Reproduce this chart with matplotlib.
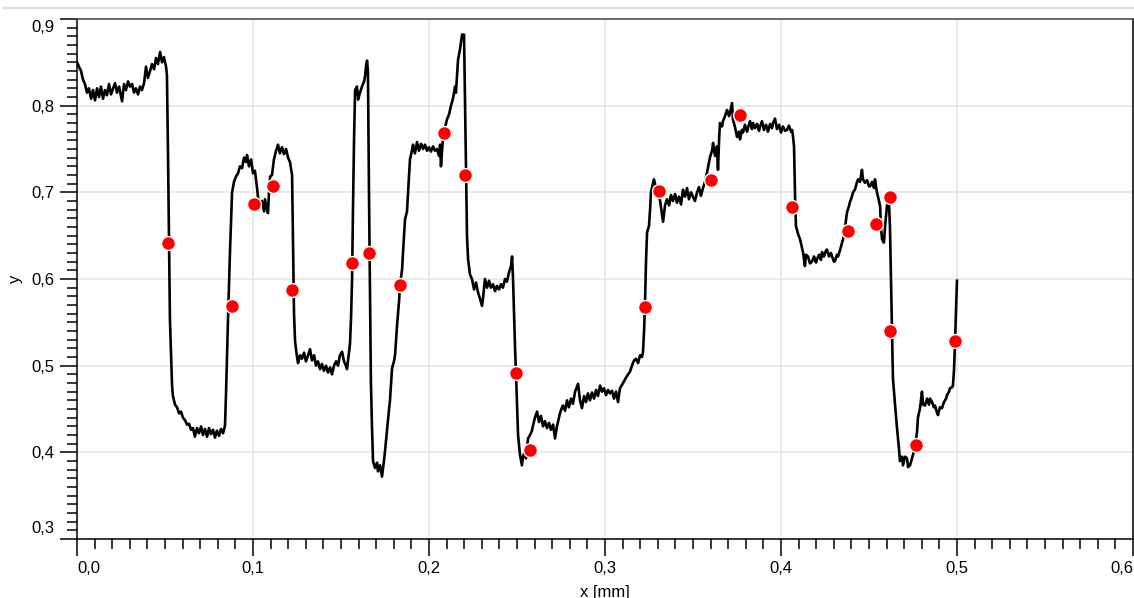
import matplotlib
matplotlib.use("Agg")
import matplotlib.pyplot as plt
from matplotlib.ticker import MultipleLocator, FuncFormatter
from matplotlib.lines import Line2D

plt.rcParams['font.family'] = ['Liberation Sans', 'DejaVu Sans']

# profile trace (x in mm)
x_mm = [
    0.0000, 0.0011, 0.0023, 0.0034, 0.0045, 0.0057, 0.0068, 0.0080, 0.0091, 0.0102,
    0.0114, 0.0125, 0.0136, 0.0148, 0.0159, 0.0170, 0.0182, 0.0193, 0.0205, 0.0216,
    0.0227, 0.0239, 0.0256, 0.0267, 0.0278, 0.0290, 0.0301, 0.0313, 0.0324, 0.0335,
    0.0347, 0.0358, 0.0369, 0.0381, 0.0392, 0.0403, 0.0415, 0.0426, 0.0438, 0.0449,
    0.0460, 0.0472, 0.0483, 0.0494, 0.0506, 0.0511, 0.0517, 0.0523, 0.0528, 0.0540,
    0.0545, 0.0557, 0.0568, 0.0580, 0.0591, 0.0602, 0.0614, 0.0625, 0.0636, 0.0648,
    0.0659, 0.0670, 0.0682, 0.0693, 0.0705, 0.0716, 0.0727, 0.0739, 0.0750, 0.0761,
    0.0773, 0.0784, 0.0795, 0.0807, 0.0818, 0.0830, 0.0841, 0.0847, 0.0852, 0.0858,
    0.0869, 0.0881, 0.0892, 0.0903, 0.0915, 0.0926, 0.0938, 0.0949, 0.0960, 0.0966,
    0.0977, 0.0989, 0.1000, 0.1011, 0.1023, 0.1028, 0.1040, 0.1051, 0.1063, 0.1068,
    0.1080, 0.1085, 0.1091, 0.1097, 0.1108, 0.1119, 0.1131, 0.1142, 0.1153, 0.1165,
    0.1176, 0.1188, 0.1199, 0.1210, 0.1222, 0.1227, 0.1233, 0.1239, 0.1250, 0.1256,
    0.1267, 0.1278, 0.1290, 0.1301, 0.1313, 0.1324, 0.1335, 0.1347, 0.1358, 0.1369,
    0.1381, 0.1392, 0.1403, 0.1415, 0.1426, 0.1438, 0.1449, 0.1460, 0.1472, 0.1483,
    0.1494, 0.1506, 0.1517, 0.1528, 0.1534, 0.1545, 0.1551, 0.1557, 0.1563, 0.1568,
    0.1574, 0.1580, 0.1591, 0.1597, 0.1608, 0.1619, 0.1631, 0.1636, 0.1642, 0.1648,
    0.1653, 0.1659, 0.1665, 0.1670, 0.1676, 0.1682, 0.1693, 0.1705, 0.1710, 0.1722,
    0.1733, 0.1744, 0.1750, 0.1761, 0.1773, 0.1778, 0.1790, 0.1801, 0.1807, 0.1818,
    0.1830, 0.1835, 0.1847, 0.1858, 0.1864, 0.1875, 0.1881, 0.1892, 0.1903, 0.1909,
    0.1920, 0.1932, 0.1943, 0.1955, 0.1966, 0.1977, 0.1989, 0.2000, 0.2011, 0.2023,
    0.2034, 0.2045, 0.2057, 0.2063, 0.2068, 0.2080, 0.2091, 0.2102, 0.2114, 0.2125,
    0.2136, 0.2148, 0.2153, 0.2165, 0.2176, 0.2188, 0.2199, 0.2205, 0.2210, 0.2216,
    0.2222, 0.2233, 0.2244, 0.2256, 0.2267, 0.2278, 0.2290, 0.2301, 0.2307, 0.2318,
    0.2330, 0.2341, 0.2352, 0.2364, 0.2375, 0.2386, 0.2398, 0.2409, 0.2420, 0.2432,
    0.2443, 0.2455, 0.2466, 0.2472, 0.2477, 0.2483, 0.2489, 0.2494, 0.2500, 0.2506,
    0.2517, 0.2528, 0.2534, 0.2545, 0.2551, 0.2563, 0.2574, 0.2585, 0.2591, 0.2602,
    0.2614, 0.2625, 0.2636, 0.2648, 0.2659, 0.2670, 0.2682, 0.2693, 0.2705, 0.2716,
    0.2727, 0.2733, 0.2744, 0.2756, 0.2761, 0.2773, 0.2784, 0.2795, 0.2807, 0.2818,
    0.2830, 0.2841, 0.2847, 0.2858, 0.2869, 0.2881, 0.2892, 0.2903, 0.2915, 0.2926,
    0.2938, 0.2949, 0.2960, 0.2972, 0.2983, 0.2994, 0.3006, 0.3017, 0.3028, 0.3040,
    0.3051, 0.3063, 0.3074, 0.3085, 0.3097, 0.3108, 0.3119, 0.3131, 0.3142, 0.3153,
    0.3165, 0.3176, 0.3188, 0.3199, 0.3210, 0.3216, 0.3222, 0.3227, 0.3233, 0.3239,
    0.3250, 0.3256, 0.3261, 0.3273, 0.3278, 0.3290, 0.3301, 0.3313, 0.3324, 0.3330,
    0.3341, 0.3352, 0.3364, 0.3375, 0.3386, 0.3398, 0.3409, 0.3420, 0.3432, 0.3443,
    0.3455, 0.3466, 0.3477, 0.3489, 0.3500, 0.3511, 0.3523, 0.3534, 0.3545, 0.3557,
    0.3568, 0.3580, 0.3591, 0.3597, 0.3608, 0.3614, 0.3625, 0.3636, 0.3642, 0.3648,
    0.3653, 0.3665, 0.3670, 0.3682, 0.3693, 0.3705, 0.3710, 0.3722, 0.3727, 0.3739,
    0.3750, 0.3761, 0.3767, 0.3778, 0.3784, 0.3795, 0.3807, 0.3813, 0.3824, 0.3835,
    0.3841, 0.3852, 0.3864, 0.3875, 0.3881, 0.3892, 0.3903, 0.3915, 0.3926, 0.3938,
    0.3949, 0.3955, 0.3966, 0.3977, 0.3989, 0.4000, 0.4011, 0.4023, 0.4034, 0.4045,
    0.4057, 0.4063, 0.4068, 0.4074, 0.4080, 0.4085, 0.4097, 0.4108, 0.4119, 0.4125,
    0.4136, 0.4142, 0.4153, 0.4165, 0.4176, 0.4188, 0.4199, 0.4205, 0.4216, 0.4227,
    0.4233, 0.4244, 0.4256, 0.4261, 0.4273, 0.4284, 0.4290, 0.4301, 0.4307, 0.4318,
    0.4324, 0.4335, 0.4347, 0.4358, 0.4369, 0.4375, 0.4386, 0.4392, 0.4403, 0.4409,
    0.4420, 0.4432, 0.4438, 0.4449, 0.4460, 0.4466, 0.4477, 0.4489, 0.4500, 0.4506,
    0.4517, 0.4528, 0.4534, 0.4545, 0.4557, 0.4563, 0.4568, 0.4574, 0.4585, 0.4591,
    0.4602, 0.4608, 0.4614, 0.4619, 0.4625, 0.4631, 0.4636, 0.4648, 0.4659, 0.4670,
    0.4676, 0.4688, 0.4693, 0.4705, 0.4716, 0.4722, 0.4733, 0.4744, 0.4750, 0.4761,
    0.4773, 0.4778, 0.4790, 0.4801, 0.4807, 0.4818, 0.4830, 0.4841, 0.4847, 0.4858,
    0.4869, 0.4875, 0.4886, 0.4892, 0.4903, 0.4915, 0.4926, 0.4938, 0.4943, 0.4955,
    0.4960, 0.4972, 0.4977, 0.4983, 0.4989, 0.4994, 0.5000,
]
y_val = [
    0.850, 0.845, 0.840, 0.830, 0.825, 0.815, 0.820, 0.808, 0.818, 0.806,
    0.820, 0.810, 0.822, 0.808, 0.818, 0.812, 0.825, 0.813, 0.820, 0.826,
    0.815, 0.822, 0.805, 0.825, 0.818, 0.828, 0.822, 0.825, 0.815, 0.820,
    0.813, 0.822, 0.818, 0.826, 0.845, 0.832, 0.840, 0.848, 0.842, 0.855,
    0.848, 0.862, 0.850, 0.856, 0.845, 0.835, 0.746, 0.642, 0.554, 0.477,
    0.465, 0.455, 0.452, 0.445, 0.447, 0.440, 0.437, 0.432, 0.433, 0.426,
    0.428, 0.418, 0.428, 0.422, 0.430, 0.420, 0.427, 0.418, 0.428, 0.421,
    0.426, 0.417, 0.425, 0.419, 0.427, 0.422, 0.431, 0.470, 0.510, 0.554,
    0.630, 0.700, 0.712, 0.718, 0.722, 0.730, 0.728, 0.740, 0.735, 0.743,
    0.730, 0.738, 0.722, 0.725, 0.705, 0.695, 0.684, 0.690, 0.678, 0.692,
    0.680, 0.676, 0.700, 0.718, 0.720, 0.738, 0.748, 0.755, 0.745, 0.752,
    0.744, 0.750, 0.740, 0.735, 0.720, 0.650, 0.560, 0.528, 0.510, 0.503,
    0.512, 0.508, 0.515, 0.505, 0.512, 0.519, 0.506, 0.512, 0.500, 0.505,
    0.496, 0.502, 0.494, 0.500, 0.492, 0.498, 0.490, 0.500, 0.505, 0.500,
    0.512, 0.516, 0.505, 0.500, 0.496, 0.515, 0.525, 0.555, 0.600, 0.680,
    0.760, 0.818, 0.822, 0.807, 0.815, 0.822, 0.828, 0.833, 0.845, 0.852,
    0.840, 0.700, 0.580, 0.480, 0.430, 0.390, 0.382, 0.388, 0.378, 0.385,
    0.372, 0.390, 0.401, 0.425, 0.450, 0.459, 0.497, 0.505, 0.512, 0.545,
    0.575, 0.593, 0.611, 0.650, 0.669, 0.678, 0.700, 0.738, 0.748, 0.755,
    0.745, 0.758, 0.748, 0.756, 0.750, 0.755, 0.748, 0.752, 0.747, 0.753,
    0.748, 0.750, 0.742, 0.755, 0.730, 0.765, 0.775, 0.784, 0.790, 0.800,
    0.808, 0.822, 0.815, 0.853, 0.865, 0.882, 0.882, 0.800, 0.740, 0.649,
    0.623, 0.605, 0.600, 0.588, 0.596, 0.585, 0.577, 0.569, 0.578, 0.600,
    0.590, 0.598, 0.590, 0.594, 0.586, 0.592, 0.588, 0.594, 0.590, 0.600,
    0.597, 0.608, 0.615, 0.626, 0.603, 0.560, 0.520, 0.493, 0.455, 0.420,
    0.397, 0.385, 0.395, 0.401, 0.393, 0.416, 0.420, 0.425, 0.431, 0.440,
    0.447, 0.435, 0.442, 0.430, 0.436, 0.428, 0.434, 0.426, 0.432, 0.416,
    0.430, 0.435, 0.445, 0.452, 0.454, 0.448, 0.460, 0.452, 0.462, 0.456,
    0.470, 0.476, 0.479, 0.460, 0.451, 0.465, 0.458, 0.468, 0.460, 0.469,
    0.462, 0.472, 0.465, 0.477, 0.470, 0.474, 0.466, 0.472, 0.468, 0.471,
    0.462, 0.470, 0.458, 0.474, 0.478, 0.482, 0.486, 0.490, 0.493, 0.500,
    0.506, 0.508, 0.503, 0.512, 0.510, 0.516, 0.540, 0.570, 0.620, 0.654,
    0.661, 0.680, 0.700, 0.711, 0.715, 0.705, 0.700, 0.690, 0.675, 0.666,
    0.685, 0.692, 0.685, 0.697, 0.690, 0.698, 0.688, 0.695, 0.686, 0.703,
    0.695, 0.705, 0.692, 0.700, 0.695, 0.690, 0.700, 0.706, 0.696, 0.705,
    0.712, 0.723, 0.735, 0.741, 0.748, 0.757, 0.742, 0.753, 0.726, 0.760,
    0.780, 0.776, 0.782, 0.788, 0.795, 0.788, 0.792, 0.803, 0.784, 0.775,
    0.764, 0.770, 0.761, 0.772, 0.769, 0.778, 0.770, 0.775, 0.782, 0.773,
    0.780, 0.774, 0.779, 0.771, 0.776, 0.782, 0.772, 0.778, 0.770, 0.779,
    0.774, 0.780, 0.785, 0.773, 0.778, 0.769, 0.776, 0.771, 0.772, 0.777,
    0.770, 0.772, 0.765, 0.753, 0.695, 0.661, 0.652, 0.646, 0.636, 0.631,
    0.615, 0.628, 0.626, 0.618, 0.620, 0.626, 0.619, 0.623, 0.628, 0.622,
    0.631, 0.626, 0.633, 0.634, 0.626, 0.630, 0.626, 0.620, 0.621, 0.628,
    0.626, 0.633, 0.642, 0.650, 0.668, 0.677, 0.684, 0.689, 0.695, 0.700,
    0.703, 0.712, 0.715, 0.712, 0.726, 0.715, 0.711, 0.714, 0.707, 0.707,
    0.712, 0.705, 0.715, 0.700, 0.690, 0.684, 0.660, 0.646, 0.642, 0.660,
    0.684, 0.692, 0.685, 0.661, 0.600, 0.540, 0.485, 0.455, 0.428, 0.405,
    0.390, 0.395, 0.385, 0.395, 0.393, 0.383, 0.385, 0.393, 0.397, 0.405,
    0.424, 0.440, 0.451, 0.470, 0.455, 0.454, 0.462, 0.455, 0.462, 0.458,
    0.452, 0.454, 0.446, 0.443, 0.452, 0.451, 0.458, 0.462, 0.466, 0.470,
    0.474, 0.475, 0.477, 0.495, 0.528, 0.562, 0.598,
]

# red marker points
dot_x = [0.0517, 0.0881, 0.1006, 0.1114, 0.1222, 0.1563, 0.1659, 0.1835,
         0.2085, 0.2205, 0.2494, 0.2574, 0.3227, 0.3307, 0.3602, 0.3767,
         0.4063, 0.4381, 0.4540, 0.4619, 0.4619, 0.4767, 0.4989]
dot_y = [0.642, 0.569, 0.687, 0.707, 0.587, 0.618, 0.630, 0.593,
         0.769, 0.720, 0.491, 0.403, 0.568, 0.701, 0.714, 0.789,
         0.683, 0.655, 0.663, 0.695, 0.540, 0.408, 0.528]

x_range = (0.0, 0.6)
y_range = (0.3, 0.9)


def comma(v):
    return f"{v:.1f}".replace('.', ',')


fig = plt.figure(figsize=(11.34, 5.98), dpi=100)
ax = fig.add_axes([77 / 1134, 1 - 539 / 598, 1056 / 1134, 520 / 598])

# thin grey bar along the top of the window
fig.add_artist(Line2D([0.003, 1.0], [1 - 8 / 598, 1 - 8 / 598], transform=fig.transFigure,
                      color='#e0e0e0', lw=1.6))

ax.plot(x_mm, y_val, color='black', lw=1.9, zorder=2)
ax.plot(dot_x, dot_y, 'o', color='#ff0000', ms=10, mec='white', mew=1.0, zorder=3)

ax.set_xlim(*x_range)
ax.set_ylim(*y_range)
ax.xaxis.set_major_locator(MultipleLocator(0.1))
ax.xaxis.set_minor_locator(MultipleLocator(0.01))
ax.yaxis.set_major_locator(MultipleLocator(0.1))
ax.yaxis.set_minor_locator(MultipleLocator(0.01))


# end labels are drawn separately so they can be tucked inside the frame
def fmt_x(v, p):
    return '' if min(abs(v - x_range[0]), abs(v - x_range[1])) < 1e-6 else comma(v)


def fmt_y(v, p):
    return '' if min(abs(v - y_range[0]), abs(v - y_range[1])) < 1e-6 else comma(v)


ax.xaxis.set_major_formatter(FuncFormatter(fmt_x))
ax.yaxis.set_major_formatter(FuncFormatter(fmt_y))

ax.tick_params(which='major', direction='out', length=12, width=1.1, labelsize=12, pad=4)
ax.tick_params(which='minor', direction='out', length=7, width=1.1)
ax.tick_params(top=False, right=False)

off = 16  # tick length + pad, points
ax.annotate(comma(x_range[0]), xy=(x_range[0], 0), xycoords=('data', 'axes fraction'),
            xytext=(0, -off), textcoords='offset points', ha='left', va='top', fontsize=12)
ax.annotate(comma(x_range[1]), xy=(x_range[1], 0), xycoords=('data', 'axes fraction'),
            xytext=(0, -off), textcoords='offset points', ha='right', va='top', fontsize=12)
ax.annotate(comma(y_range[0]), xy=(0, y_range[0]), xycoords=('axes fraction', 'data'),
            xytext=(-off, 2), textcoords='offset points', ha='right', va='bottom', fontsize=12)
ax.annotate(comma(y_range[1]), xy=(0, y_range[1]), xycoords=('axes fraction', 'data'),
            xytext=(-off, -1), textcoords='offset points', ha='right', va='top', fontsize=12)

ax.grid(True, which='major', color='#e6e6e6', lw=1.2, zorder=0)
ax.set_axisbelow(True)

for s in ax.spines.values():
    s.set_linewidth(1.1)
ax.spines['top'].set_color('#444444')

ax.set_xlabel('x [mm]', fontsize=12, labelpad=6)
ax.set_ylabel('y', fontsize=12, labelpad=6)

fig.savefig('out.png', dpi=100)
